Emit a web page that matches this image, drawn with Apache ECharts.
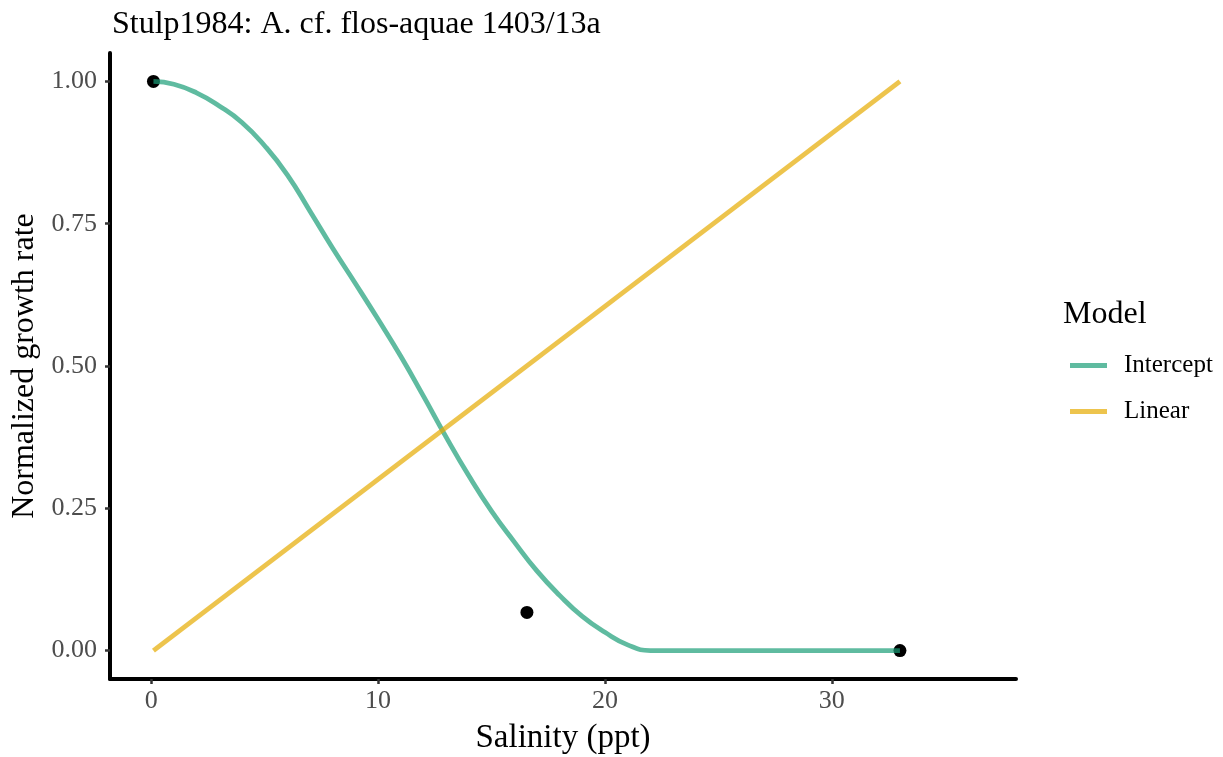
<!DOCTYPE html>
<html>
<head>
<meta charset="utf-8">
<title>Stulp1984: A. cf. flos-aquae 1403/13a</title>
<script src="https://cdn.jsdelivr.net/npm/echarts@6/dist/echarts.min.js"></script>
<style>
  html, body { margin: 0; padding: 0; background: #ffffff; }
  #chart { width: 1223px; height: 757px; }
</style>
</head>
<body>
<div id="chart"></div>
<script>
// Observed normalized growth rates
const obsSalinity = [0.1, 16.56, 33];
const obsGrowth = [1.0, 0.067, 0.0];

// Fitted "Intercept" model curve
const interceptSalinity = [0.1, 1, 2, 3, 4, 5, 6, 7, 8, 9, 10, 11, 12, 13, 14, 15, 16, 17, 18, 19, 20, 21, 22, 24, 28, 33];
const interceptGrowth  = [1.0, 0.995, 0.980, 0.957, 0.928, 0.887, 0.836, 0.772, 0.707, 0.645, 0.582, 0.517, 0.447, 0.375, 0.307, 0.245, 0.191, 0.140, 0.097, 0.060, 0.032, 0.010, 0.0, 0.0, 0.0, 0.0];

// Fitted "Linear" model line
const linearSalinity = [0.1, 33.0];
const linearGrowth = [0.0, 1.0];

const xTicks = [0, 10, 20, 30];
const yTicks = [0, 0.25, 0.5, 0.75, 1.0];

const FONT = '"Liberation Serif", "Times New Roman", serif';
const zip = (xs, ys) => xs.map((x, i) => [x, ys[i]]);

const chart = echarts.init(document.getElementById('chart'), null, { renderer: 'canvas' });

chart.setOption({
  backgroundColor: '#ffffff',
  animation: false,
  title: [
    {
      text: 'Stulp1984: A. cf. flos-aquae 1403/13a',
      left: 107, top: 4,
      textStyle: { fontFamily: FONT, fontSize: 32, fontWeight: 'normal', color: '#000000' }
    },
    {
      text: 'Model',
      left: 1058, top: 294,
      textStyle: { fontFamily: FONT, fontSize: 32, fontWeight: 'normal', color: '#000000' }
    }
  ],
  legend: {
    data: ['Intercept', 'Linear'],
    orient: 'vertical',
    left: 1065, top: 348,
    icon: 'rect',
    itemWidth: 37, itemHeight: 5,
    itemGap: 21,
    textStyle: { fontFamily: FONT, fontSize: 25, color: '#000000', padding: [0, 0, 0, 12] }
  },
  grid: { left: 110, right: 207, top: 53, bottom: 78, containLabel: false, outerBoundsMode: 'none' },
  xAxis: {
    type: 'value',
    min: -1.815, max: 38.115,
    name: 'Salinity (ppt)',
    nameLocation: 'middle',
    nameGap: 43,
    nameTextStyle: { fontFamily: FONT, fontSize: 33, color: '#000000' },
    axisLine: { show: true, onZero: false, lineStyle: { color: '#000000', width: 4 } },
    axisTick: { show: true, length: 5, customValues: xTicks, lineStyle: { color: '#333333', width: 2.5 } },
    axisLabel: { customValues: xTicks, margin: 9, fontFamily: FONT, fontSize: 26, color: '#4d4d4d' },
    splitLine: { show: false }
  },
  yAxis: {
    type: 'value',
    min: -0.05, max: 1.05,
    name: 'Normalized growth rate',
    nameLocation: 'middle',
    nameGap: 58,
    nameTextStyle: { fontFamily: FONT, fontSize: 32, color: '#000000' },
    axisLine: { show: true, onZero: false, lineStyle: { color: '#000000', width: 4 } },
    axisTick: { show: true, length: 5, customValues: yTicks, lineStyle: { color: '#333333', width: 2.5 } },
    axisLabel: {
      customValues: yTicks, margin: 13, fontFamily: FONT, fontSize: 26, color: '#4d4d4d',
      formatter: v => v.toFixed(2)
    },
    splitLine: { show: false }
  },
  series: [
    {
      name: 'Observed',
      type: 'scatter',
      data: zip(obsSalinity, obsGrowth),
      symbol: 'circle',
      symbolSize: 13,
      itemStyle: { color: '#000000', opacity: 1 },
      z: 2
    },
    {
      name: 'Intercept',
      type: 'line',
      data: zip(interceptSalinity, interceptGrowth),
      showSymbol: false,
      smooth: 0.5,
      smoothConstraint: false,
      color: 'rgba(27,158,119,0.7)',
      lineStyle: { width: 4.8, color: 'rgba(27,158,119,0.7)', cap: 'butt' },
      z: 3
    },
    {
      name: 'Linear',
      type: 'line',
      data: zip(linearSalinity, linearGrowth),
      showSymbol: false,
      color: 'rgba(230,171,2,0.7)',
      lineStyle: { width: 4.8, color: 'rgba(230,171,2,0.7)', cap: 'butt' },
      z: 3
    }
  ]
});
</script>
</body>
</html>
